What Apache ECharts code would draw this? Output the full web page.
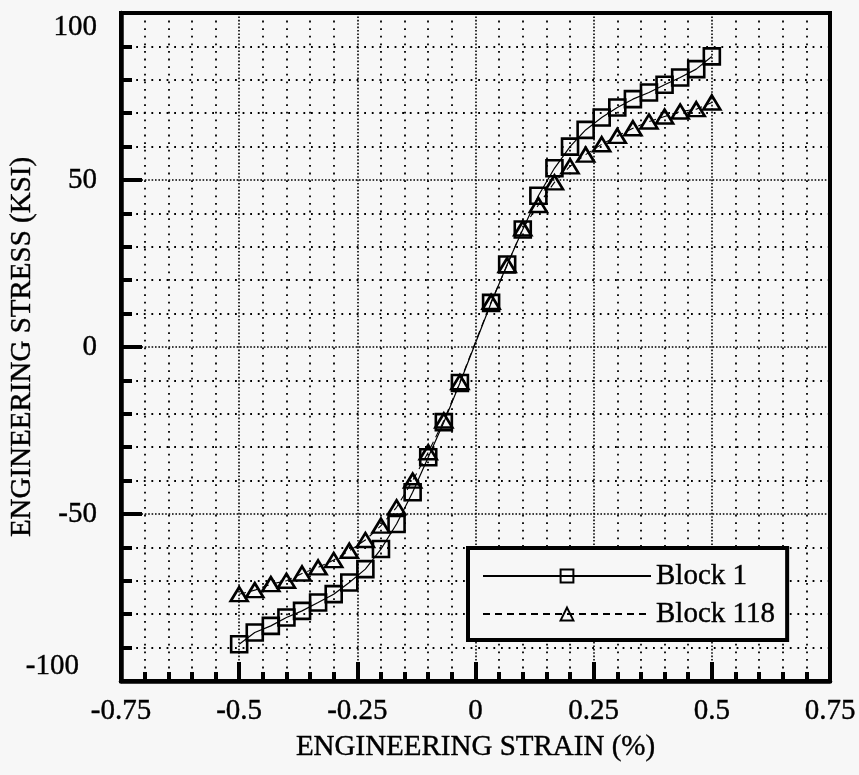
<!DOCTYPE html>
<html>
<head>
<meta charset="utf-8">
<script src="https://cdn.jsdelivr.net/npm/echarts@6/dist/echarts.min.js"></script>
<style>
html,body{margin:0;padding:0;background:#f7f7f7;}
#c{width:859px;height:775px;}
</style>
</head>
<body>
<div id="c"></div>
<script>
const strain = [-0.5, -0.467, -0.433, -0.4, -0.367, -0.333, -0.3, -0.267, -0.233, -0.2,
  -0.167, -0.133, -0.1, -0.067, -0.033, 0.033, 0.067, 0.1, 0.133, 0.167,
  0.2, 0.233, 0.267, 0.3, 0.333, 0.367, 0.4, 0.433, 0.467, 0.5];
const block1 = [-89, -85.5, -83.5, -81, -79, -76.5, -74, -70.5, -66.5, -60.5,
  -53, -43.5, -33, -22.5, -10.8, 13.2, 24.7, 35.2, 45.3, 53.5,
  60, 65, 68.7, 71.7, 74.2, 76.2, 78.5, 80.7, 83.2, 87];
const block118 = [-74, -72.8, -71, -70, -67.8, -66, -63.8, -61, -57.8, -53.5,
  -48, -40, -31.5, -22, -10.5, 13.5, 24.5, 35.5, 42.5, 49.3,
  54.1, 57.6, 60.7, 63.2, 65.5, 67.5, 69, 70.5, 71.2, 73.2];
const seriesNames = ['Block 1', 'Block 118'];
const xTitle = 'ENGINEERING STRAIN (%)';
const yTitle = 'ENGINEERING STRESS (KSI)';

const FONT = '"Liberation Serif", "Times New Roman", serif';
const TXT = {fontFamily: FONT, color: '#000', textBorderColor: '#000', textBorderWidth: 0.4};
const chart = echarts.init(document.getElementById('c'), null, {renderer: 'canvas'});

function pairs(xs, ys) { return xs.map((x, i) => [x, ys[i]]); }

chart.setOption({
  backgroundColor: '#f7f7f7',
  animation: false,
  grid: {left: 121, right: 29, top: 13, bottom: 94, outerBoundsMode: 'none', containLabel: false,
    show: true, borderColor: '#000', borderWidth: 4, backgroundColor: 'transparent'},
  xAxis: {
    type: 'value', position: 'bottom', min: -0.75, max: 0.75, interval: 0.25,
    name: xTitle, nameLocation: 'middle', nameGap: 52, nameMoveOverlap: false,
    nameTextStyle: Object.assign({fontSize: 29}, TXT),
    axisLine: {show: true, onZero: false, lineStyle: {color: '#000', width: 4.5}},
    axisTick: {show: true, inside: true, length: 19, lineStyle: {color: '#000', width: 4}},
    minorTick: {show: true, splitNumber: 5, length: 9, lineStyle: {color: '#000', width: 4}},
    axisLabel: Object.assign({fontSize: 29, margin: 16}, TXT),
    splitLine: {show: true, lineStyle: {color: '#000', width: 1.6, type: [1.6, 1.8]}},
    minorSplitLine: {show: true, lineStyle: {color: '#000', width: 1.8, type: [1.8, 5.8]}}
  },
  yAxis: {
    type: 'value', position: 'left', min: -100, max: 100, interval: 50,
    name: yTitle, nameLocation: 'middle', nameGap: 84, nameRotate: 90, nameMoveOverlap: false,
    nameTextStyle: Object.assign({fontSize: 29}, TXT),
    axisLine: {show: true, onZero: false, lineStyle: {color: '#000', width: 4.5}},
    axisTick: {show: true, inside: true, length: 21, lineStyle: {color: '#000', width: 4}},
    minorTick: {show: true, splitNumber: 5, length: 11, lineStyle: {color: '#000', width: 4}},
    axisLabel: Object.assign({fontSize: 29, margin: 24,
      verticalAlignMaxLabel: 'top', verticalAlignMinLabel: 'bottom',
      formatter: function (v) { return v === -100 ? '{lo|' + v + '}' : String(v); },
      rich: {lo: Object.assign({fontSize: 29, padding: [0, 18, 0, 0]}, TXT)}
    }, TXT),
    splitLine: {show: true, lineStyle: {color: '#000', width: 1.6, type: [1.6, 1.8]}},
    minorSplitLine: {show: true, lineStyle: {color: '#000', width: 1.8, type: [1.8, 5.8]}}
  },
  legend: {
    orient: 'vertical', left: 468, top: 548, z: 20,
    backgroundColor: '#f7f7f7',
    borderColor: '#000', borderWidth: 4,
    padding: [12, 12, 10, 14],
    itemWidth: 168, itemHeight: 16, itemGap: 6,
    textStyle: Object.assign({fontSize: 29, lineHeight: 32}, TXT),
    data: seriesNames
  },
  series: [
    {
      name: seriesNames[0], type: 'line', data: pairs(strain, block1),
      symbol: 'rect', symbolSize: 16,
      lineStyle: {color: '#000', width: 1.2, type: 'solid'},
      itemStyle: {color: 'rgba(0,0,0,0)', borderColor: '#000', borderWidth: 2.6},
      z: 3
    },
    {
      name: seriesNames[1], type: 'line', data: pairs(strain, block118),
      symbol: 'triangle', symbolSize: [17, 14],
      lineStyle: {color: '#000', width: 1.1, type: [7, 5]},
      itemStyle: {color: 'rgba(0,0,0,0)', borderColor: '#000', borderWidth: 2.6},
      z: 3
    }
  ]
});
</script>
</body>
</html>
